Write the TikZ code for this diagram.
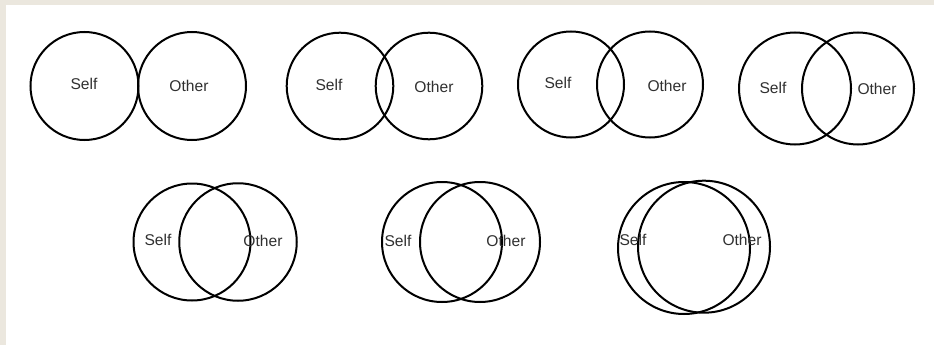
\documentclass[tikz,border=0pt]{standalone}
\usepackage{fontspec}
\setmainfont{Liberation Sans}
\definecolor{frame}{HTML}{EBE7DE}
\definecolor{txt}{HTML}{303030}
\begin{document}
\begin{tikzpicture}[x=1pt,y=-1pt,
  ring/.style={circle,draw=black,line width=2pt,inner sep=0pt},
  lbl/.style={text=txt,font=\fontsize{15.6pt}{18pt}\selectfont,inner sep=0pt}]
\fill[frame] (0,0) rectangle (934,345);
\fill[white] (6,5) rectangle (934,345);
\useasboundingbox (0,0) rectangle (934,345);
% pair 1
\node[ring,minimum size=108pt] (a1) at (84.5,86) {};
\node[ring,minimum size=108pt] (b1) at (192,86) {};
\node[lbl] (s1) at (84,84) {Self};
\node[lbl] (o1) at (189,86) {Other};
% pair 2
\node[ring,minimum size=106.6pt] (a2) at (340,86) {};
\node[ring,minimum size=106.6pt] (b2) at (429,86) {};
\node[lbl] (s2) at (329,85) {Self};
\node[lbl] (o2) at (434,87) {Other};
% pair 3
\node[ring,minimum size=106pt] (a3) at (571,84.5) {};
\node[ring,minimum size=106pt] (b3) at (650,84.5) {};
\node[lbl] (s3) at (558,83) {Self};
\node[lbl] (o3) at (667,86) {Other};
% pair 4
\node[ring,minimum size=112pt] (a4) at (795,88.5) {};
\node[ring,minimum size=112pt] (b4) at (858,88.5) {};
\node[lbl] (s4) at (773,88) {Self};
\node[lbl] (o4) at (877,89) {Other};
% pair 5
\node[ring,minimum size=117pt] (a5) at (192,242) {};
\node[ring,minimum size=117.5pt] (b5) at (238,242) {};
\node[lbl] (s5) at (158,240) {Self};
\node[lbl] (o5) at (263,241) {Other};
% pair 6
\node[ring,minimum size=120pt] (a6) at (442,242) {};
\node[ring,minimum size=120pt] (b6) at (480,242) {};
\node[lbl] (s6) at (398,241) {Self};
\node[lbl] (o6) at (506,241) {Other};
% pair 7
\node[ring,minimum size=132pt] (a7) at (684,248) {};
\node[ring,minimum size=132pt] (b7) at (704,246.7) {};
\node[lbl] (s7) at (633,240) {Self};
\node[lbl] (o7) at (742,240) {Other};
\end{tikzpicture}
\end{document}
